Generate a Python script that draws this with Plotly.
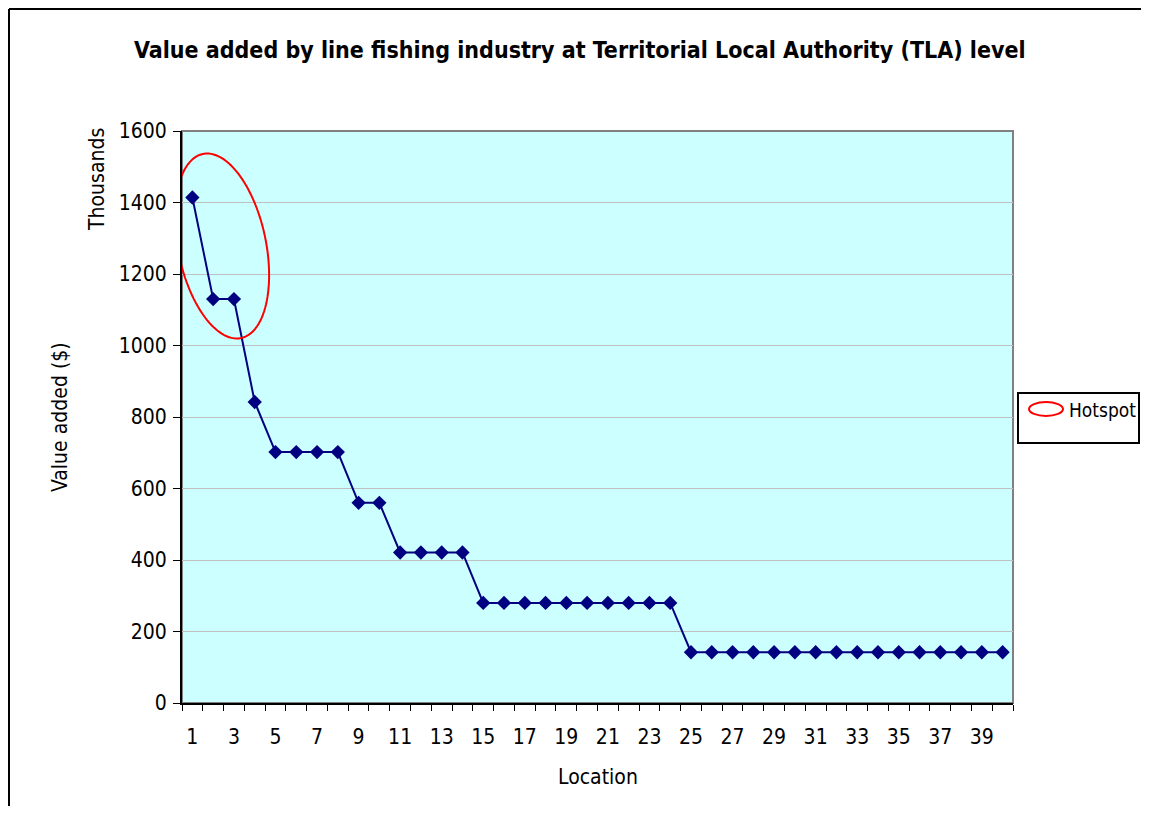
import numpy as np
import plotly.graph_objects as go

locations = list(range(1, 41))
values = [1414, 1130, 1130, 842,
          702, 702, 702, 702,
          560, 560,
          421, 421, 421, 421,
          280, 280, 280, 280, 280, 280, 280, 280, 280, 280,
          142, 142, 142, 142, 142, 142, 142, 142, 142, 142, 142, 142, 142, 142, 142, 142]
y_ticks = [0, 200, 400, 600, 800, 1000, 1200, 1400, 1600]
x_ticks = list(range(1, 41, 2))

FONT = "DejaVu Sans Condensed, Liberation Sans Narrow, Liberation Sans, Arial, sans-serif"
OFF = 8  # page body margin offset
W, H = 1149 - 2 * OFF, 814 - 2 * OFF
# plot area in reference pixel coords
L, R, T, B = 182, 1013, 131, 703
XR = [0.5, 40.5]
YR = [0, 1600]

def px2data(px, py):
    x = XR[0] + (px - L) / (R - L) * (XR[1] - XR[0])
    y = YR[0] + (B - py) / (B - T) * (YR[1] - YR[0])
    return x, y

def px2paper(px, py):
    return (px - L) / (R - L), (B - py) / (B - T)

fig = go.Figure()
fig.add_trace(go.Scatter(
    x=locations, y=values, mode="lines+markers",
    line=dict(color="#000080", width=2),
    marker=dict(symbol="diamond", size=11, color="#000080"),
    showlegend=False, cliponaxis=False))

# Hotspot ellipse (tilted) around first points
cx, cy, a, b, phi = 222, 246, 94, 44, np.deg2rad(78.3)
t = np.linspace(0, 2 * np.pi, 120)
ex = cx + a * np.cos(t) * np.cos(phi) - b * np.sin(t) * np.sin(phi)
ey = cy + a * np.cos(t) * np.sin(phi) + b * np.sin(t) * np.cos(phi)
pts = [px2data(x, y) for x, y in zip(ex, ey)]
path = "M " + " L ".join(f"{x:.4f},{y:.4f}" for x, y in pts) + " Z"

shapes = []
shapes.append(dict(type="rect", xref="paper", yref="paper", x0=0, y0=0, x1=1, y1=1,
                   line=dict(color="#808080", width=2), layer="below"))
shapes.append(dict(type="path", xref="x", yref="y", path=path,
                   line=dict(color="#ff0000", width=2)))
# outer chart frame (top and left edges visible)
fx0, fy0 = px2paper(9, 9)
fx1, fy1 = px2paper(1160, 830)
shapes.append(dict(type="line", xref="paper", yref="paper", x0=fx0, y0=fy0, x1=fx1, y1=fy0,
                   line=dict(color="#000000", width=2)))
shapes.append(dict(type="line", xref="paper", yref="paper", x0=fx0, y0=fy0, x1=fx0, y1=fy1,
                   line=dict(color="#000000", width=2)))
# legend box
lx0, ly0 = px2paper(1018, 443)
lx1, ly1 = px2paper(1139, 393)
shapes.append(dict(type="rect", xref="paper", yref="paper", x0=lx0, y0=ly0, x1=lx1, y1=ly1,
                   line=dict(color="#000000", width=2), fillcolor="white"))
ex0, ey0 = px2paper(1029, 416)
ex1, ey1 = px2paper(1063, 402)
shapes.append(dict(type="circle", xref="paper", yref="paper", x0=ex0, y0=ey0, x1=ex1, y1=ey1,
                   line=dict(color="#ff0000", width=2)))

annotations = []
tx, ty = px2paper(1067, 410)
annotations.append(dict(text="Hotspot", xref="paper", yref="paper", x=tx, y=ty,
                        xanchor="left", yanchor="middle", showarrow=False,
                        font=dict(family=FONT, size=19, color="black")))
ax_, ay_ = px2paper(60, 417)
annotations.append(dict(text="Value added ($)", xref="paper", yref="paper", x=ax_, y=ay_,
                        textangle=-90, xanchor="center", yanchor="middle", showarrow=False,
                        font=dict(family=FONT, size=21, color="black")))
ax2, ay2 = px2paper(97, 180)
annotations.append(dict(text="Thousands", xref="paper", yref="paper", x=ax2, y=ay2,
                        textangle=-90, xanchor="center", yanchor="middle", showarrow=False,
                        font=dict(family=FONT, size=21, color="black")))
lox, loy = px2paper(598, 777)
annotations.append(dict(text="Location", xref="paper", yref="paper", x=lox, y=loy,
                        xanchor="center", yanchor="middle", showarrow=False,
                        font=dict(family=FONT, size=21, color="black")))
ttx, tty = px2paper(580, 50)
annotations.append(dict(text="<b>Value added by line fishing industry at Territorial Local Authority (TLA) level</b>",
                        xref="paper", yref="paper", x=ttx, y=tty,
                        xanchor="center", yanchor="middle", showarrow=False,
                        font=dict(family=FONT, size=23, color="black")))

fig.update_layout(
    width=W, height=H,
    margin=dict(l=L - OFF, r=OFF + W - R, t=T - OFF, b=OFF + H - B, pad=0),
    paper_bgcolor="white", plot_bgcolor="#ccffff",
    font=dict(family=FONT, size=21, color="black"),
    shapes=shapes, annotations=annotations, showlegend=False,
    xaxis=dict(range=XR, tickmode="array", tickvals=x_ticks, ticktext=[str(v) for v in x_ticks],
               ticks="", showgrid=False, zeroline=False, showline=True,
               linecolor="#000000", linewidth=2, ticklabelstandoff=14,
               minor=dict(tickmode="linear", tick0=0.5, dtick=1, ticks="outside",
                          ticklen=6, tickcolor="#000000", tickwidth=1, showgrid=False)),
    yaxis=dict(range=YR, tickmode="array", tickvals=y_ticks, ticks="outside", ticklen=7,
               tickcolor="#000000", tickwidth=1, showgrid=True, gridcolor="#c0c0c0",
               gridwidth=1, zeroline=False, showline=True, linecolor="#000000",
               linewidth=2, ticklabelstandoff=2),
)

fig.write_html("out.html")
